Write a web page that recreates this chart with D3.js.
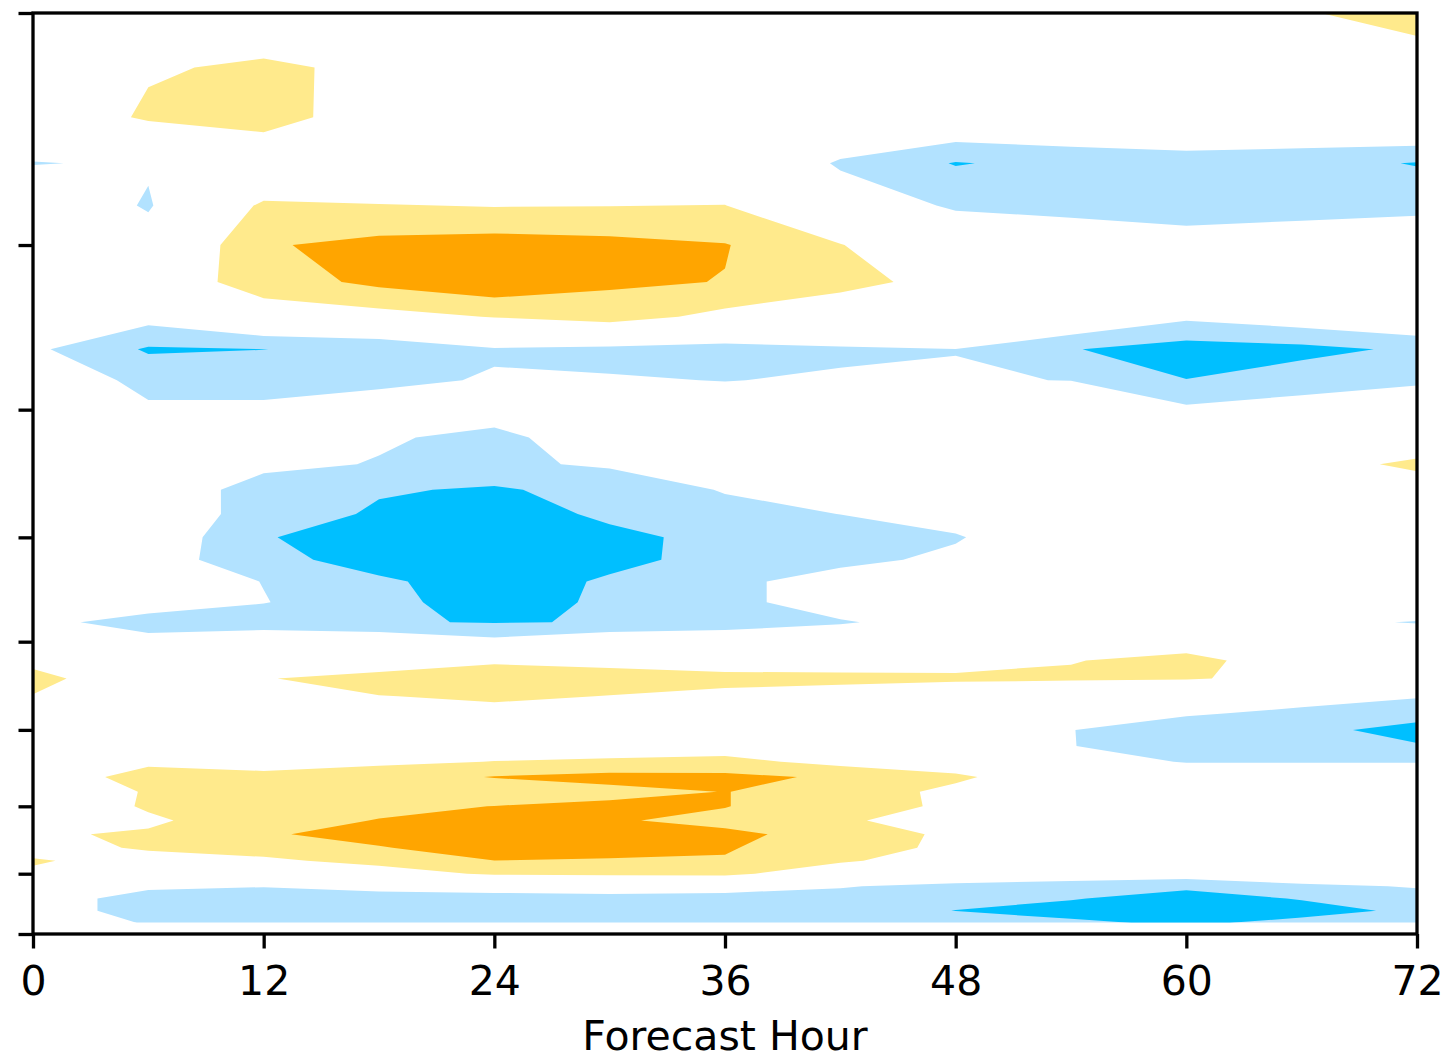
<!DOCTYPE html>
<html><head><meta charset="utf-8">
<script src="https://cdn.jsdelivr.net/npm/d3@7"></script>
<style>body{margin:0;background:#fff} svg{display:block}</style>
</head><body><svg id="chart" width="1450" height="1059"></svg>
<script>
// Forecast hours (columns) and pressure levels in hPa (rows)
const hours = [0, 6, 12, 18, 24, 30, 36, 42, 48, 54, 60, 66, 72];
const pressures = [200,220,240,260,280,300,320,340,360,380,400,420,440,460,480,500,520,540,560,580,
                   600,620,640,660,680,700,720,740,760,780,800,820,840,860,880,900,920,940,960,980];
// anomaly[row][col], row = pressure level, col = forecast hour
const anomaly = [
  [0.2, 0.3, 0.27, 0.3, 0.2, 0.1, 0.1, 0.1, 0.2, 0.3, 0.4, 0.9, 1.5],
  [0.1, 0.9, 1.15, 0.81, 0.3, 0.1, 0.0, 0.0, 0.1, 0.2, 0.3, 0.4, 0.28],
  [0.1, 1.16, 1.7, 0.07, 0.0, 0.0, 0.0, 0.0, 0.2, 0.2, 0.29, 0.4, 0.64],
  [-1.04, -0.89, -0.5, -0.2, 0.0, 0.0, 0.01, -1.1, -2.06, -1.7, -1.5, -1.7, -2.05],
  [-0.1, -1.1, 1.2, 1.05, 0.95, 0.98, 1.02, -0.5, -1.1, -1.3, -1.5, -1.45, -1.4],
  [-0.2, -0.5, 1.9, 2.3, 2.45, 2.3, 2.05, 1.05, -0.3, -0.3, -0.5, -0.25, 0.2],
  [0.0, 0.25, 1.5, 2.24, 2.75, 2.16, 1.97, 1.3, 0.65, 0.0, 0.0, 0.0, 0.0],
  [-0.3, -0.61, 0.42, 0.61, 1.05, 1.46, 0.69, 0.3, 0.0, 0.16, -0.8, -0.36, 0.13],
  [-0.8, -2.12, -2.01, -1.76, -1.1, -1.25, -1.37, -1.13, -1.01, -1.95, -2.45, -2.3, -1.82],
  [-0.2, -1.3, -1.3, -1.21, -0.92, -0.93, -1.02, -0.91, -0.96, -1.01, -1.98, -1.44, -1.1],
  [-0.2, -0.85, -0.85, -0.51, -0.49, -0.3, -0.5, -0.3, -0.2, -0.4, -0.8, -0.56, -0.51],
  [-0.2, -0.3, -0.3, -0.86, -1.3, -0.3, -0.2, -0.1, 0.0, 0.0, 0.1, 0.3, 0.65],
  [0.0, -0.3, -0.7, -1.07, -1.15, -0.89, -0.5, -0.3, 0.0, 0.1, 0.2, 0.79, 1.1],
  [0.0, -0.05, -1.56, -1.87, -2.15, -1.55, -0.94, -0.3, 0.0, 0.1, 0.2, 0.4, 0.73],
  [0.0, -0.66, -1.2, -2.2, -2.6, -1.77, -1.29, -0.99, -0.5, 0.0, 0.0, 0.0, 0.0],
  [0.0, -0.2, -1.9, -2.73, -2.7, -2.3, -1.66, -1.4, -1.1, 0.0, 0.0, 0.0, 0.0],
  [0.0, -0.53, -1.6, -2.53, -2.8, -2.3, -1.63, -1.3, -0.75, 0.0, 0.0, 0.0, 0.0],
  [0.0, -0.5, -1.02, -1.8, -2.6, -1.85, -1.3, -0.47, -0.2, 0.0, 0.0, 0.0, 0.0],
  [-0.2, -0.63, -0.97, -1.47, -2.86, -1.67, -1.3, -0.47, -0.3, 0.0, 0.0, 0.0, -0.3],
  [-0.79, -1.3, -1.4, -1.92, -2.05, -1.95, -1.5, -1.1, -0.51, -0.2, 0.0, -0.79, -1.05],
  [0.0, -0.75, -0.4, -0.08, -0.7, -0.05, -0.25, -0.1, 0.0, 0.3, 0.69, 0.3, -0.3],
  [0.73, 0.3, 0.2, -0.24, 0.79, 0.64, 0.66, 0.71, 0.68, 0.97, 1.2, 0.63, 0.0],
  [1.3, 0.27, 0.9, 1.73, 1.8, 1.5, 1.2, 1.15, 1.15, 1.1, 1.02, 0.93, 0.2],
  [0.96, 0.3, 0.3, 0.96, 1.2, 0.97, 0.82, 0.72, 0.32, 0.2, 0.6, -0.63, -0.91],
  [0.2, 0.0, 0.0, 0.3, 0.63, 0.3, 0.2, 0.1, 0.0, -0.5, -0.89, -1.2, -1.66],
  [0.0, 0.0, 0.0, 0.0, 0.2, 0.0, 0.0, 0.0, -0.2, -0.98, -1.5, -1.76, -2.3],
  [0.1, 0.2, 0.1, 0.3, 0.5, 0.29, 0.49, 0.2, -0.1, -0.98, -1.4, -1.6, -1.93],
  [0.3, 0.85, 0.4, 0.82, 1.02, 1.2, 1.3, 0.68, 0.3, -0.6, -1.05, -1.05, -1.05],
  [0.5, 1.3, 1.4, 1.5, 2.05, 2.3, 2.25, 1.85, 1.2, 0.15, -0.34, -0.34, -0.34],
  [0.5, 1.05, 1.5, 1.5, 1.34, 1.73, 2.02, 1.62, 0.72, 0.0, 0.0, 0.0, 0.0],
  [0.27, 1.1, 1.6, 1.7, 2.02, 2.2, 2.05, 1.05, 0.98, 0.0, 0.0, 0.0, 0.0],
  [0.2, 0.86, 1.5, 2.05, 2.5, 2.15, 1.6, 1.2, 0.33, 0.0, 0.0, 0.0, 0.0],
  [0.9, 1.1, 1.85, 2.48, 2.7, 2.5, 2.3, 1.49, 0.82, 0.0, 0.0, 0.0, 0.0],
  [0.67, 1.1, 1.4, 1.92, 2.6, 2.4, 2.1, 1.3, 0.85, 0.0, 0.0, 0.0, 0.0],
  [1.08, 0.67, 0.82, 1.3, 1.98, 1.9, 1.91, 1.1, 0.6, 0.0, 0.0, 0.0, 0.0],
  [0.87, 0.5, 0.5, 0.51, 1.15, 1.2, 1.2, 0.43, 0.3, -0.31, -0.34, 0.2, 0.0],
  [0.5, -0.87, -0.97, -0.7, -0.72, -0.47, -0.3, -0.9, -1.43, -1.5, -1.91, -1.3, -0.9],
  [-0.62, -1.3, -1.4, -1.4, -1.24, -1.32, -1.6, -1.57, -1.7, -1.97, -2.2, -1.97, -1.57],
  [-0.62, -1.3, -1.3, -1.3, -1.3, -1.3, -1.4, -1.5, -2.02, -2.2, -2.4, -2.2, -1.89],
  [-0.6, -1.05, -1.1, -1.1, -1.1, -1.1, -1.1, -1.2, -1.5, -1.91, -2.1, -1.86, -1.5]
];
const posLevels = [1, 2];
const posColors = ["#ffea8c", "#ffa500"];
const negLevels = [-1, -2];
const negColors = ["#b2e2ff", "#00bfff"];
const xTicks = [0, 12, 24, 36, 48, 60, 72];
const yTicks = [1000, 900, 800, 700, 600, 500, 400, 300, 200];
const xLabel = "Forecast Hour";

const svg = d3.select("#chart");
const L = 33, R = 1417, T = 13, B = 934;
const x = d3.scaleLinear().domain([0, 72]).range([L, R]);
const y = d3.scaleLog().domain([1000, 200]).range([B, T]);

const nx = hours.length, ny = pressures.length;
const colToHour = d3.scaleLinear().domain(d3.range(nx)).range(hours);
const rowToP = d3.scaleLinear().domain(d3.range(ny)).range(pressures);
const colToHourX = d3.scaleLinear().domain([0, nx - 1]).range([hours[0], hours[nx - 1]]);
const rowToPX = d3.scaleLinear().domain([0, ny - 1]).range([pressures[0], pressures[ny - 1]]);
const hourOf = g => (g >= 0 && g <= nx - 1) ? colToHour(g) : colToHourX(g);
const presOf = g => (g >= 0 && g <= ny - 1) ? rowToP(g) : rowToPX(g);
const px = gx => x(hourOf(gx - 0.5));
const py = gy => y(Math.max(50, presOf(gy - 0.5)));

function pathOf(mp) {
  let d = "";
  for (const poly of mp.coordinates) for (const ring of poly) {
    d += "M" + ring.map(([a, b]) => px(a).toFixed(2) + "," + py(b).toFixed(2)).join("L") + "Z";
  }
  return d;
}

const flat = anomaly.flat();
svg.append("defs").append("clipPath").attr("id", "clip").append("rect")
  .attr("x", x(hours[0])).attr("y", y(pressures[0]))
  .attr("width", x(hours[nx - 1]) - x(hours[0]))
  .attr("height", y(pressures[ny - 1]) - y(pressures[0]));
const g = svg.append("g").attr("clip-path", "url(#clip)");

const posGen = d3.contours().size([nx, ny]).thresholds(posLevels);
posGen(flat).forEach((c, i) => g.append("path").attr("d", pathOf(c)).attr("fill", posColors[i]).attr("fill-rule", "evenodd"));
const negGen = d3.contours().size([nx, ny]).thresholds(negLevels.map(v => -v));
negGen(flat.map(v => -v)).forEach((c, i) => g.append("path").attr("d", pathOf(c)).attr("fill", negColors[i]).attr("fill-rule", "evenodd"));

// axes
const xAxis = svg.append("g").attr("transform", `translate(0,${B})`)
  .call(d3.axisBottom(x).tickValues(xTicks).tickSize(14.5).tickSizeOuter(0).tickFormat(d3.format("d")));
xAxis.select(".domain").remove();
xAxis.attr("font-size", 41).attr("font-family", "DejaVu Sans");
xAxis.selectAll(".tick line").attr("stroke", "#000").attr("stroke-width", 3.3);
xAxis.selectAll(".tick text").attr("y", 61).attr("dy", null).attr("fill", "#000");

const yAxis = svg.append("g").attr("transform", `translate(${L},0)`)
  .call(d3.axisLeft(y).tickValues(yTicks).tickSize(14.5).tickSizeOuter(0).tickFormat(() => ""));
yAxis.select(".domain").remove();
yAxis.selectAll(".tick line").attr("stroke", "#000").attr("stroke-width", 3.3);

svg.append("rect").attr("x", L).attr("y", T).attr("width", R - L).attr("height", B - T)
  .attr("fill", "none").attr("stroke", "#000").attr("stroke-width", 3.3);

svg.append("text").attr("x", (L + R) / 2).attr("y", 1050).attr("text-anchor", "middle")
  .attr("font-family", "DejaVu Sans").attr("font-size", 41).attr("fill", "#000").text(xLabel);
</script></body></html>
